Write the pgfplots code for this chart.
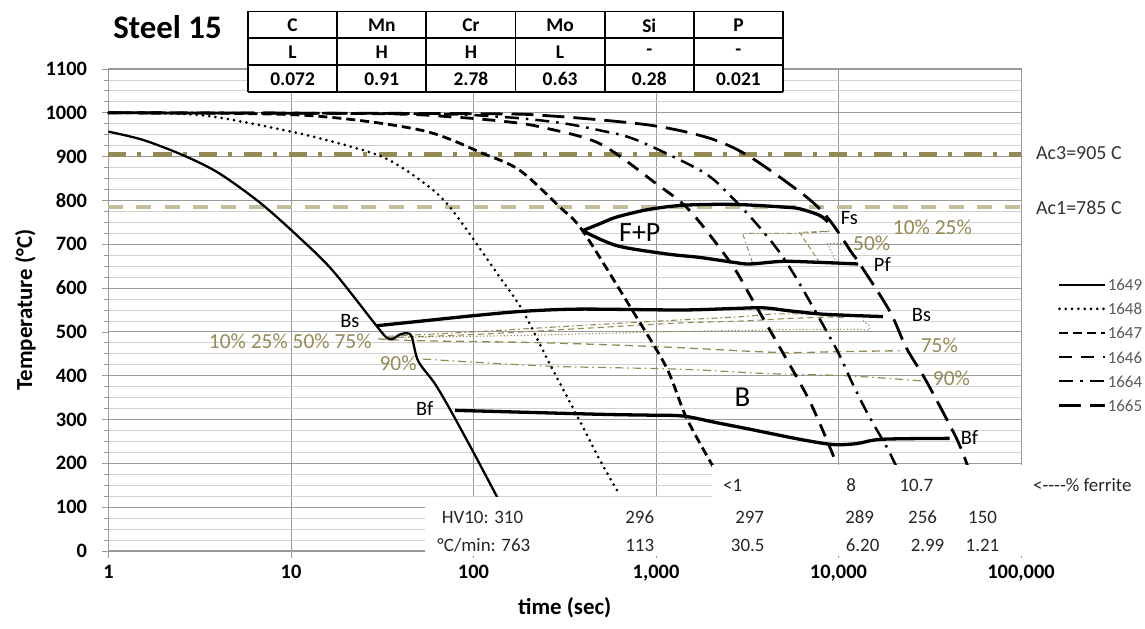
\documentclass[border=0pt]{standalone}
\usepackage{fontspec}
\setmainfont{Carlito}
\usepackage{pgfplots}
\pgfplotsset{compat=1.18}
\definecolor{tanD}{HTML}{948A54}
\definecolor{tanL}{HTML}{C4BD97}
\definecolor{gridmaj}{HTML}{9A9A9A}
\definecolor{gridmin}{HTML}{D2D2D2}
\newcommand{\fs}[1]{\fontsize{#1}{#1}\selectfont}
\begin{document}
\begin{tikzpicture}[x=1bp,y=1bp]
\useasboundingbox (-108.5,-78) rectangle (1036.5,551);
\begin{axis}[
  at={(0,0)}, anchor=south west,
  scale only axis, width=912.5bp, height=482bp,
  xmode=log, log basis x=10, xmin=1, xmax=100000, ymin=0, ymax=1100,
  xtick={1,10,100,1000,10000,100000},
  xticklabels={1,10,100,{1,000},{10,000},{100,000}},
  ytick={0,100,...,1100},
  minor y tick num=3,
  grid=both,
  major grid style={gridmaj, line width=0.9bp},
  minor grid style={gridmin, line width=0.8bp},
  axis line style={gridmaj, line width=1bp},
  tick style={gridmaj, line width=0.8bp},
  xtick pos=bottom, ytick pos=left, tick align=outside,
  major tick length=7bp, minor tick length=5bp,
  /pgf/number format/assume math mode=true,
  /pgf/number format/1000 sep={},
  ticklabel style={font=\fs{20.5}\bfseries, text=black},
  yticklabel style={xshift=-11bp},
  xticklabel style={yshift=-4bp},
  every axis x label/.style={at={(axis description cs:0.5,-0.118)}, anchor=center, font=\fs{23}\bfseries},
  every axis y label/.style={at={(axis description cs:-0.091,0.5)}, anchor=center, rotate=90, font=\fs{23}\bfseries},
  xlabel={time (sec)}, ylabel={Temperature (°C)},
  clip=false,
  legend style={at={(1.037,0.571)}, anchor=north west, draw=none, fill=none,
    font=\fs{17}, text=black!65, row sep=10.5bp,
    nodes={inner sep=0.8bp, text height=12bp, text depth=0bp}},
  legend cell align=left,
  legend image code/.code={\draw[#1] (0bp,0bp) -- (46bp,0bp);},
]
% Ac3 / Ac1
\addplot[forget plot, tanD, line width=4.8bp, dash pattern=on 18bp off 11bp on 4bp off 12bp] coordinates {(1,905) (100000,905)};
\addplot[forget plot, tanL, line width=4.2bp, dash pattern=on 15bp off 13bp] coordinates {(1,785) (100000,785)};

% tan bainite percentage lines
\addplot[forget plot, tanD, line width=1.1bp, dash pattern=on 6bp off 3bp on 1.5bp off 3bp, smooth] coordinates {(34,490) (100,500) (400,515) (1300,527) (3000,535) (4500,541) (8000,540) (12000,537)};
\addplot[forget plot, tanD, line width=1.1bp, dash pattern=on 6bp off 4bp, smooth] coordinates {(34,487) (100,494) (400,508) (1300,520) (3000,525) (5000,530) (9000,534) (11000,532)};
\addplot[forget plot, tanD, line width=1.1bp, dash pattern=on 1.2bp off 2.2bp] coordinates {(34,487) (200,492) (1000,500) (5000,505) (12500,506) (14800,504) (14700,515) (13500,527)};
\addplot[forget plot, tanD, line width=1.3bp, dash pattern=on 8bp off 5bp, smooth] coordinates {(30,484) (48.7,480) (200,476) (600,470) (1349,464) (4750,453) (10000,455) (21600,457)};
\addplot[forget plot, tanD, line width=1.2bp, dash pattern=on 8bp off 4bp on 1.5bp off 4bp, smooth] coordinates {(53,438) (251,422) (1349,415) (4000,405) (11040,400) (29000,388)};
% tan ferrite percentage lines
\addplot[forget plot, tanD, line width=1bp, dash pattern=on 5bp off 3bp on 1.5bp off 3bp] coordinates {(3380,658) (2980,725) (6120,725) (8710,729)};
\addplot[forget plot, tanD, line width=1bp, dash pattern=on 5bp off 3bp] coordinates {(7880,658) (6120,727) (8940,730)};
\addplot[forget plot, tanD, line width=1bp, dash pattern=on 1.2bp off 2.2bp] coordinates {(9770,658) (8700,702) (11500,702)};

% transformation curves
\addplot[forget plot, black, line width=3.3bp, smooth, tension=0.5] coordinates {(396,731) (500,748) (607,762) (900,779) (1406,789) (2640,791) (4960,785) (6120,781) (7880,766) (8750,751)};
\addplot[forget plot, black, line width=3.3bp, smooth, tension=0.5] coordinates {(396,731) (607,697) (1140,678) (1735,670) (2640,659) (3260,655) (4950,661) (7540,659) (12800,655)};
\addplot[forget plot, black, line width=3.3bp, smooth, tension=0.5] coordinates {(29.4,514) (50,524) (100,537) (187,547) (382,552) (1349,550) (2500,553) (3855,555) (5400,548) (7880,541) (11000,538) (17500,535)};
\addplot[forget plot, black, line width=3.3bp, smooth, tension=0.5] coordinates {(79,321) (490,312) (925,310) (1406,308) (2140,293) (3260,278) (6120,255) (9310,243) (12550,245) (17300,255) (40600,257)};

% cooling curves
\addplot[black, line width=2.3bp, smooth, tension=0.5] coordinates {(1,957) (1.55,938) (2.57,903) (4.0,863) (6.76,795) (11.19,714) (17,639) (29.4,514) (33.4,487) (35.7,483) (39.5,494) (43,497) (45.9,489) (49.7,434) (61.4,382) (74.2,324) (99.1,228) (134,125) (158,68) (191,0)};
\addlegendentry{1649}
\addplot[black, line width=3bp, line cap=round, dash pattern=on 0bp off 6.3bp, smooth, tension=0.5] coordinates {(1,1000) (3.17,995) (9.03,961) (16.96,934) (31.9,899) (50.8,847) (74.2,785) (139.3,625) (186.3,548) (261.6,427) (367.8,310) (492,208) (632,128)};
\addlegendentry{1648}
\addplot[black, line width=2.8bp, dash pattern=on 9bp off 5bp, smooth, tension=0.5] coordinates {(1,1000) (11.2,995) (50.8,961) (113,907) (179,869) (297,785) (396,731) (745,548) (1140,419) (1468,304) (2053,193)};
\addlegendentry{1647}
\addplot[black, line width=2.8bp, dash pattern=on 13bp off 9bp, smooth, tension=0.5] coordinates {(1,1000) (30,998) (80,990) (150,980) (231,968) (490,930) (1005,838) (1530,777) (2590,655) (3400,571) (4960,452) (6950,342) (9310,220) (9520,198)};
\addlegendentry{1646}
\addplot[black, line width=2.5bp, dash pattern=on 14bp off 7bp on 2.5bp off 7bp, smooth, tension=0.5] coordinates {(1,1000) (50,998) (150,990) (300,977) (492,960) (782,938) (1808,865) (2590,808) (3550,747) (4750,682) (6120,610) (9730,461) (11750,388) (14500,312) (18270,239) (20750,193)};
\addlegendentry{1664}
\addplot[black, line width=2.8bp, dash pattern=on 22bp off 9bp, smooth, tension=0.5] coordinates {(1,1000) (100,998) (262,993) (920,972) (1967,942) (3260,900) (6670,808) (8940,755) (11760,682) (13040,656) (19050,548) (23500,464) (30250,388) (44200,258) (51100,193)};
\addlegendentry{1665}

% white box for the bottom table
\fill[white] (axis cs:54.1,-11) rectangle (axis cs:108600,123);
\fill[white] (axis cs:2020,120) rectangle (axis cs:108600,196);

% labels in the plot
\begin{scope}[every node/.style={font=\fs{21.5}, text=tanD, inner sep=0pt}]
\node[anchor=east] at (axis cs:27.7,479) {10\% 25\% 50\% 75\%};
\node[anchor=east] at (axis cs:48.9,429) {90\%};
\node at (axis cs:35700,470) {75\%};
\node at (axis cs:41600,395) {90\%};
\node at (axis cs:32700,739) {10\% 25\%};
\node at (axis cs:15200,703) {50\%};
\end{scope}
\begin{scope}[every node/.style={font=\fs{20.5}, text=black, inner sep=0pt}]
\node at (axis cs:21,524) {Bs};
\node at (axis cs:54,326) {Bf};
\node at (axis cs:28500,538.6) {Bs};
\node at (axis cs:52200,260) {Bf};
\node at (axis cs:11480,760) {Fs};
\node at (axis cs:17400,653) {Pf};
\node[font=\fs{28}] at (axis cs:815,726) {F+P};
\node[font=\fs{29}] at (axis cs:2980,351) {B};
\end{scope}
\begin{scope}[every node/.style={font=\fs{19}, text=black!85, inner sep=0pt}]
\node at (axis cs:2630,150.6) {<1};
\node at (axis cs:11750,150.6) {8};
\node at (axis cs:26700,150.6) {10.7};
\node at (axis cs:112,77.6) {HV10: 310};
\node at (axis cs:815,77.6) {296};
\node at (axis cs:3260,77.6) {297};
\node at (axis cs:13060,77.6) {289};
\node at (axis cs:28900,77.6) {256};
\node at (axis cs:61600,77.6) {150};
\node at (axis cs:114,13.7) {°C/min: 763};
\node at (axis cs:815,13.7) {113};
\node at (axis cs:3180,13.7) {30.5};
\node at (axis cs:13550,13.7) {6.20};
\node at (axis cs:30750,13.7) {2.99};
\node at (axis cs:61500,13.7) {1.21};
\end{scope}
\end{axis}

% outside texts
\node[anchor=west, font=\fs{20}, text=black!80, inner sep=0pt] at (927.5,398) {Ac3=905 C};
\node[anchor=west, font=\fs{20}, text=black!80, inner sep=0pt] at (927.5,343) {Ac1=785 C};
\node[anchor=west, font=\fs{19}, text=black!85, inner sep=0pt] at (924.5,66) {<{-}{-}{-}{-}\% ferrite};
\node[font=\fs{33}\bfseries, inner sep=0pt] at (59,524) {Steel 15};

% composition table
\fill[white] (139.5,459.1) rectangle (674.5,539.5);
\foreach \yy in {539.5,512.7,485.9,459.1} \draw[line width=1.8bp] (139.5,\yy) -- (674.5,\yy);
\foreach \k in {0,...,6} \draw[line width=1.8bp] ({139.5+89.167*\k},459.1) -- ({139.5+89.167*\k},539.5);
\foreach \t [count=\k from 0] in {C,Mn,Cr,Mo,Si,P}
  \node[font=\fs{19.5}\bfseries, inner sep=0pt] at ({139.5+89.167*(\k+0.5)},525.5) {\t};
\foreach \t [count=\k from 0] in {L,H,H,L,-,-}
  \node[font=\fs{19.5}\bfseries, inner sep=0pt] at ({139.5+89.167*(\k+0.5)},498.7) {\t};
\foreach \t [count=\k from 0] in {0.072,0.91,2.78,0.63,0.28,0.021}
  \node[font=\fs{19.5}\bfseries, inner sep=0pt] at ({139.5+89.167*(\k+0.5)},472) {\t};
\end{tikzpicture}
\end{document}
